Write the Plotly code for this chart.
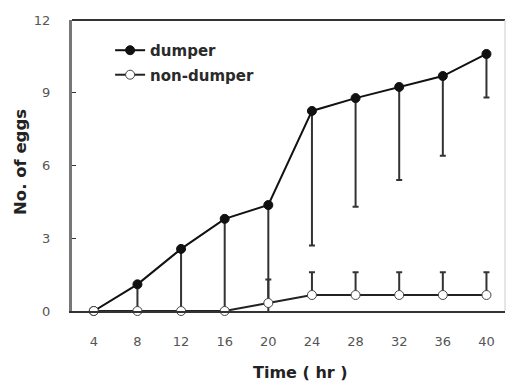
import plotly.graph_objects as go

time_hr = [4, 8, 12, 16, 20, 24, 28, 32, 36, 40]
dumper = [0, 1.1, 2.56, 3.8, 4.37, 8.25, 8.78, 9.24, 9.69, 10.6]
dumper_err_minus = [0, 1.1, 2.56, 3.8, 4.62, 5.55, 4.48, 3.84, 3.29, 1.8]
nondumper = [0, 0, 0, 0, 0.33, 0.66, 0.66, 0.66, 0.66, 0.66]
nondumper_err_plus = [0, 0, 0, 0, 0.97, 0.94, 0.94, 0.94, 0.94, 0.94]
y_ticks = [0, 3, 6, 9, 12]

zeros = [0] * len(time_hr)

fig = go.Figure()
fig.add_trace(go.Scatter(
    x=time_hr, y=dumper, name="<b>dumper</b>", mode="lines+markers", legendgroup="a",
    line=dict(color="#111111", width=2),
    marker=dict(symbol="circle", size=9, color="#111111", line=dict(color="#111111", width=1)),
    error_y=dict(type="data", symmetric=False, array=zeros, arrayminus=dumper_err_minus,
                 color="#333333", thickness=2, width=3),
    cliponaxis=False,
))
fig.add_trace(go.Scatter(
    x=time_hr, y=nondumper, name="<b>non-dumper</b>", mode="lines+markers", legendgroup="b",
    line=dict(color="#222222", width=2),
    marker=dict(symbol="circle", size=9, color="white", line=dict(color="#444444", width=1)),
    error_y=dict(type="data", symmetric=False, array=nondumper_err_plus, arrayminus=zeros,
                 color="#333333", thickness=2, width=3),
    cliponaxis=False,
))

# frame: top border and faint right border
fig.add_shape(type="line", xref="paper", yref="paper", x0=0, x1=1, y0=1, y1=1,
              line=dict(color="#333333", width=2))
fig.add_shape(type="line", xref="paper", yref="paper", x0=1, x1=1, y0=0, y1=1,
              line=dict(color="#cccccc", width=1))

fig.update_layout(
    width=506, height=386,
    margin=dict(l=72, r=1, t=20, b=75),
    paper_bgcolor="white", plot_bgcolor="white",
    font=dict(family="DejaVu Sans, sans-serif", color="#444444", size=13),
    showlegend=True,
    legend=dict(x=0.088, y=0.952, xanchor="left", yanchor="top",
                bgcolor="rgba(0,0,0,0)", font=dict(size=15, color="#2a2a2a"),
                itemwidth=30, tracegroupgap=2),
    xaxis=dict(range=[2, 41.7], tickvals=time_hr, ticks="", showgrid=False,
               zeroline=False, showline=True, linecolor="#333333", linewidth=2,
               ticklabelstandoff=17, tickfont=dict(size=13, color="#555555")),
    yaxis=dict(range=[0, 12], tickvals=y_ticks, ticks="inside", ticklen=4, tickwidth=1,
               tickcolor="#333333", showgrid=False, zeroline=False, showline=True,
               linecolor="#777777", linewidth=3, ticklabelstandoff=16,
               tickfont=dict(size=13, color="#555555")),
)

fig.add_annotation(text="<b>Time ( hr )</b>", xref="paper", yref="paper",
                   x=(300 - 72) / 433, y=-(372 - 311) / 291, showarrow=False,
                   font=dict(size=16, color="#222222"), xanchor="center", yanchor="middle")
fig.add_annotation(text="<b>No. of eggs</b>", xref="paper", yref="paper",
                   x=-(72 - 20) / 433, y=(311 - 162) / 291, showarrow=False, textangle=-90,
                   font=dict(size=16.5, color="#222222"), xanchor="center", yanchor="middle")

fig.write_html("out.html")
